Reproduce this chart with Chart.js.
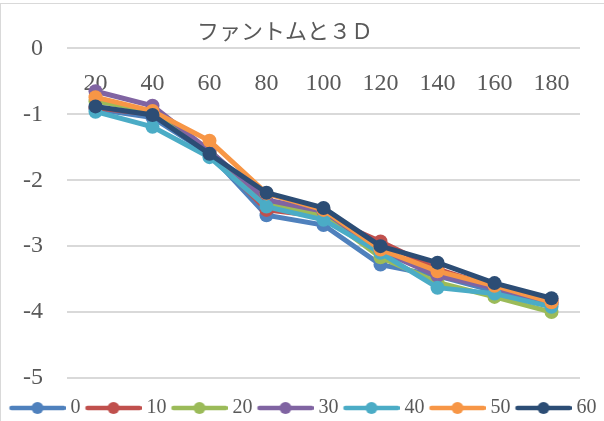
<!DOCTYPE html>
<html>
<head>
<meta charset="utf-8">
<script src="https://cdn.jsdelivr.net/npm/chart.js@4/dist/chart.umd.min.js"></script>
<style>
  html, body { margin: 0; padding: 0; background: #fff; }
  #wrap { position: relative; width: 604px; height: 421px; }
  #frame { position: absolute; left: 0; top: 3px; width: 610px; height: 430px;
           border: 1px solid #d9d9d9; box-sizing: border-box; pointer-events: none; }
</style>
</head>
<body>
<div id="wrap">
  <canvas id="c" width="604" height="421"></canvas>
  <div id="frame"></div>
</div>
<script>
// Angles along the category axis
const categories = ['20', '40', '60', '80', '100', '120', '140', '160', '180'];

// One series per setting
const seriesNames = ['0', '10', '20', '30', '40', '50', '60'];
const s0  = [-0.92, -1.05, -1.60, -2.53, -2.68, -3.28, -3.45, -3.68, -3.88];
const s10 = [-0.90, -1.00, -1.58, -2.45, -2.55, -2.93, -3.35, -3.62, -3.82];
const s20 = [-0.80, -0.95, -1.55, -2.35, -2.53, -3.17, -3.55, -3.77, -4.00];
const s30 = [-0.65, -0.87, -1.55, -2.30, -2.47, -3.07, -3.45, -3.63, -3.86];
const s40 = [-0.96, -1.19, -1.65, -2.40, -2.60, -3.10, -3.63, -3.72, -3.92];
const s50 = [-0.74, -0.95, -1.40, -2.20, -2.45, -3.05, -3.38, -3.60, -3.85];
const s60 = [-0.88, -1.01, -1.60, -2.19, -2.42, -3.00, -3.25, -3.56, -3.79];
const seriesValues = [s0, s10, s20, s30, s40, s50, s60];

// Value axis ticks
const yTicks = [0, -1, -2, -3, -4, -5];

const colors = ['#4F81BD', '#C0504D', '#9BBB59', '#8064A2', '#4BACC6', '#F79646', '#2C4D75'];
const textColor = '#595959';
const numFont = "'Liberation Serif', 'Times New Roman', serif";

// Legend swatch: a short line with a round marker in the middle
function swatch(color) {
  const cv = document.createElement('canvas');
  cv.width = 63; cv.height = 16;
  const g = cv.getContext('2d');
  g.strokeStyle = color;
  g.lineWidth = 4.5;
  g.lineCap = 'round';
  g.beginPath(); g.moveTo(9, 8); g.lineTo(61, 8); g.stroke();
  g.fillStyle = color;
  g.beginPath(); g.arc(35, 8, 6, 0, Math.PI * 2); g.fill();
  return cv;
}
const swatches = colors.map(swatch);

const datasets = seriesNames.map((name, i) => ({
  label: name,
  data: seriesValues[i],
  borderColor: colors[i],
  backgroundColor: colors[i],
  borderWidth: 5,
  pointRadius: 7,
  pointHoverRadius: 7,
  pointBorderWidth: 0,
  tension: 0,
  order: seriesNames.length - i
}));

// Nudge the title a little left of the canvas centre
const titleShift = {
  id: 'titleShift',
  afterLayout(chart) {
    const t = chart.titleBlock;
    if (t) { t.left -= 17; t.right -= 17; }
  }
};

new Chart(document.getElementById('c'), {
  type: 'line',
  data: { labels: categories, datasets },
  plugins: [titleShift],
  options: {
    responsive: false,
    animation: false,
    events: [],
    layout: { padding: { top: 6, left: 0, right: 0, bottom: -7 } },
    plugins: {
      title: {
        display: true,
        text: 'ファントムと３Ｄ',
        color: textColor,
        font: { family: "'Noto Sans CJK JP', sans-serif", size: 22, weight: 'normal' },
        padding: { top: 11, bottom: 5 }
      },
      legend: {
        position: 'bottom',
        labels: {
          usePointStyle: true,
          pointStyleWidth: 53,
          padding: 3,
          color: textColor,
          font: { family: numFont, size: 20 },
          sort: (a, b) => a.datasetIndex - b.datasetIndex,
          generateLabels: (chart) => chart.data.datasets.map((ds, i) => ({
            text: ds.label,
            fillStyle: colors[i],
            strokeStyle: colors[i],
            lineWidth: 0,
            pointStyle: swatches[i],
            fontColor: textColor,
            hidden: false,
            datasetIndex: i
          }))
        }
      },
      tooltip: { enabled: false }
    },
    scales: {
      x: {
        type: 'category',
        position: { y: 0 },
        offset: true,
        grid: { display: false, drawTicks: false },
        border: { display: false },
        ticks: { color: textColor, font: { family: numFont, size: 24 }, padding: 21, maxRotation: 0 }
      },
      xGap: {
        type: 'linear',
        position: 'bottom',
        display: false,
        afterFit: (s) => { s.height = 17; }
      },
      y: {
        min: -5,
        max: 0,
        afterBuildTicks: (s) => { s.ticks = yTicks.map(v => ({ value: v })); },
        grid: { color: '#d9d9d9', lineWidth: 2, drawTicks: false },
        border: { display: false },
        ticks: { color: textColor, font: { family: numFont, size: 24 }, padding: 24 },
        afterFit: (s) => { s.width = 67; }
      },
      yGap: {
        type: 'linear',
        position: 'right',
        display: false,
        afterFit: (s) => { s.width = 24; }
      }
    }
  }
});
</script>
</body>
</html>
